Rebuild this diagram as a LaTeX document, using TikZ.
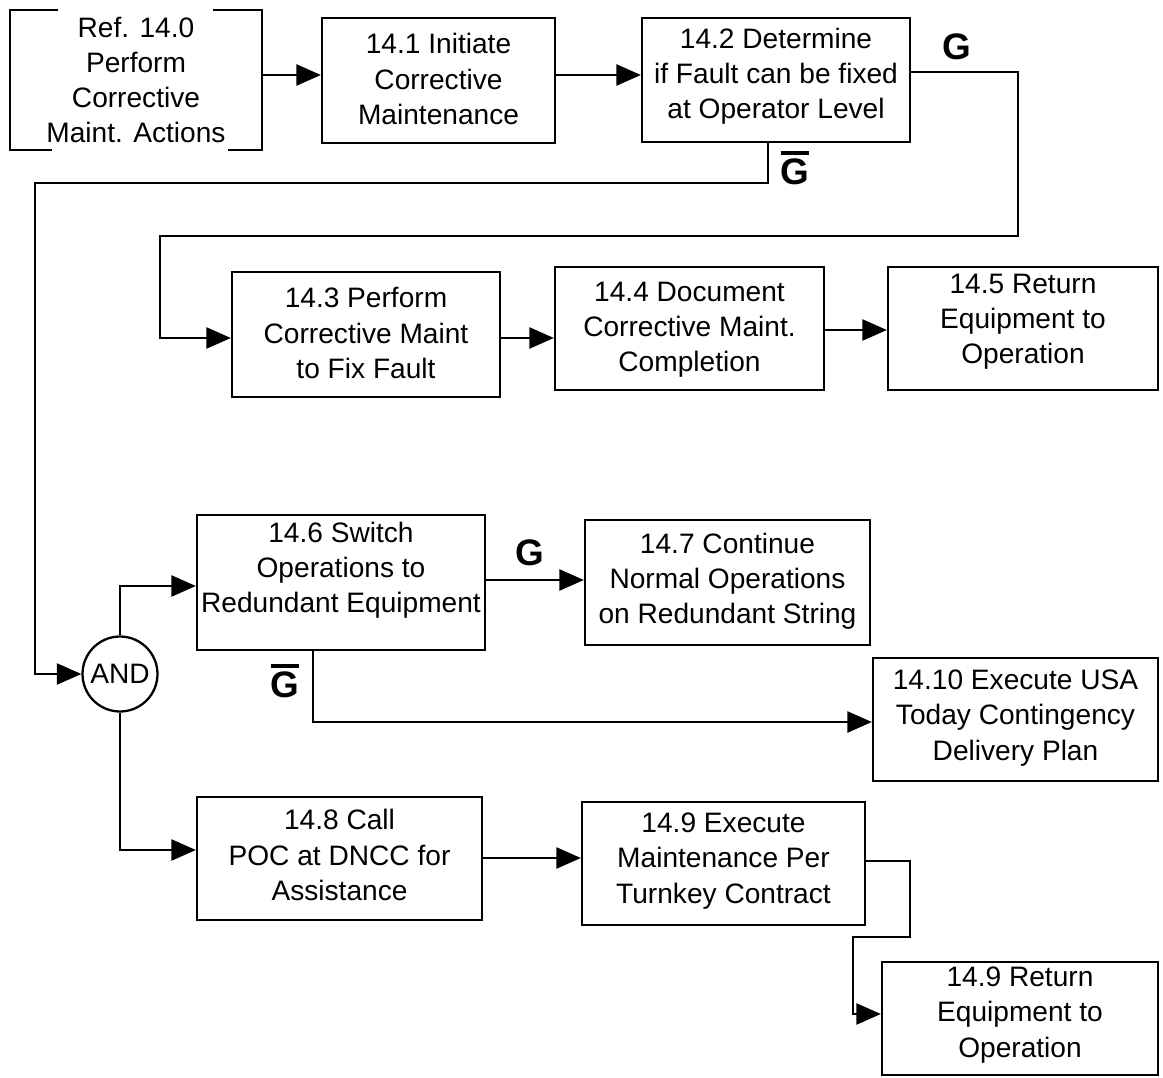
\documentclass[tikz,border=0pt]{standalone}
\usepackage{fontspec}
\setmainfont{Liberation Sans}
\usetikzlibrary{arrows.meta}
\newcommand\gbarlabel{\vbox{\hrule height 2.4pt\kern 2.2pt\hbox{\bfseries G}}}
\begin{document}
\begin{tikzpicture}[x=0.02cm,y=-0.02cm,
  box/.style={draw,line width=1.3pt,inner sep=0pt},
  txt/.style={align=center,inner sep=0pt,font=\fontsize{16}{20}\selectfont},
  conn/.style={line width=1.3pt},
  arr/.style={conn,-{Triangle[length=14pt,width=12pt]}},
  glab/.style={inner sep=0pt,font=\fontsize{21}{24}\selectfont\bfseries}]
\useasboundingbox[fill=white] (0,0) rectangle (1163,1078);

% Ref 14.0 (open bracket box)
\node[inner sep=0pt,minimum width=5.04cm,minimum height=2.8cm] (ref) at (136,80) {};
\draw[conn] (58,10) -- (10,10) -- (10,150) -- (52,150);
\draw[conn] (213,10) -- (262,10) -- (262,150) -- (228,150);
\node[txt] (tref) at (136,80) {Ref. 14.0\\Perform\\Corrective\\Maint. Actions};

% boxes
\node[box,minimum width=4.66cm,minimum height=2.5cm] (b141) at (438.5,80.5) {};
\node[txt] (t141) at (438.5,79) {14.1 Initiate\\Corrective\\Maintenance};

\node[box,minimum width=5.36cm,minimum height=2.48cm] (b142) at (776,80) {};
\node[txt] (t142) at (776,76) {14.2 Determine\\if Fault can be fixed\\at Operator Level};

\node[box,minimum width=5.36cm,minimum height=2.5cm] (b143) at (366,334.5) {};
\node[txt] (t143) at (366,333) {14.3 Perform\\Corrective Maint\\to Fix Fault};

\node[box,minimum width=5.38cm,minimum height=2.46cm] (b144) at (689.5,328.5) {};
\node[txt] (t144) at (689.5,330) {14.4 Document\\Corrective Maint.\\Completion};

\node[box,minimum width=5.4cm,minimum height=2.46cm] (b145) at (1023,328.5) {};
\node[txt] (t145) at (1023,322) {14.5 Return\\Equipment to\\Operation};

\node[box,minimum width=5.76cm,minimum height=2.7cm] (b146) at (341,582.5) {};
\node[txt] (t146) at (341,570) {14.6 Switch\\Operations to\\Redundant Equipment};

\node[box,minimum width=5.7cm,minimum height=2.5cm] (b147) at (727.5,582.5) {};
\node[txt] (t147) at (727.5,581) {14.7 Continue\\Normal Operations\\on Redundant String};

\node[box,minimum width=5.7cm,minimum height=2.46cm] (b1410) at (1015.5,719.5) {};
\node[txt] (t1410) at (1015.5,718) {14.10 Execute USA\\Today Contingency\\Delivery Plan};

\node[box,minimum width=5.7cm,minimum height=2.46cm] (b148) at (339.5,858.5) {};
\node[txt] (t148) at (339.5,855) {14.8 Call\\POC at DNCC for\\Assistance};

\node[box,minimum width=5.66cm,minimum height=2.46cm] (b149) at (723.5,863.5) {};
\node[txt] (t149) at (723.5,861) {14.9 Execute\\Maintenance Per\\Turnkey Contract};

\node[box,minimum width=5.52cm,minimum height=2.26cm] (b149r) at (1020,1018.5) {};
\node[txt] (t149r) at (1020,1015) {14.9 Return\\Equipment to\\Operation};

% AND gate
\node[draw,circle,line width=1.3pt,minimum size=1.5cm,inner sep=0pt,font=\fontsize{16}{20}\selectfont] (and) at (120,674) {AND};

% coordinates for routing
\coordinate (gr1) at (1018,72);
\coordinate (gr2) at (1018,236);
\coordinate (gr3) at (160,236);
\coordinate (gr4) at (160,338);
\coordinate (gb1) at (768,183);
\coordinate (gb2) at (35,183);
\coordinate (gb3) at (35,674);
\coordinate (r1) at (910,861);
\coordinate (r2) at (910,937);
\coordinate (r3) at (853,937);
\coordinate (r4) at (853,1014);

% connectors
\draw[arr] (ref.east |- 0,75) -- (b141.west |- 0,75);
\draw[arr] (b141.east |- 0,75) -- (b142.west |- 0,75);
\draw[arr] (b142.east |- gr1) -- (gr1) -- (gr2) -- (gr3) -- (gr4) -- (b143.west |- gr4);
\draw[arr] (b142.south -| gb1) -- (gb1) -- (gb2) -- (gb3) -- (and.west);
\draw[arr] (b143.east |- 0,338) -- (b144.west |- 0,338);
\draw[arr] (b144.east |- 0,330) -- (b145.west |- 0,330);
\draw[arr] (and.north) -- (and.north |- 0,586) -- (b146.west |- 0,586);
\draw[arr] (and.south) -- (and.south |- 0,850) -- (b148.west |- 0,850);
\draw[arr] (b146.east |- 0,580) -- (b147.west |- 0,580);
\draw[arr] (b146.south -| 313,0) -- (313,722) -- (b1410.west |- 0,722);
\draw[arr] (b148.east |- 0,858) -- (b149.west |- 0,858);
\draw[arr] (b149.east |- r1) -- (r1) -- (r2) -- (r3) -- (r4) -- (b149r.west |- r4);

% condition labels
\node[glab] (lg1) at (957,47) {G};
\node[glab] (lg2) at (795,168) {\gbarlabel};
\node[glab] (lg3) at (530,553) {G};
\node[glab] (lg4) at (285,681) {\gbarlabel};
\end{tikzpicture}
\end{document}
